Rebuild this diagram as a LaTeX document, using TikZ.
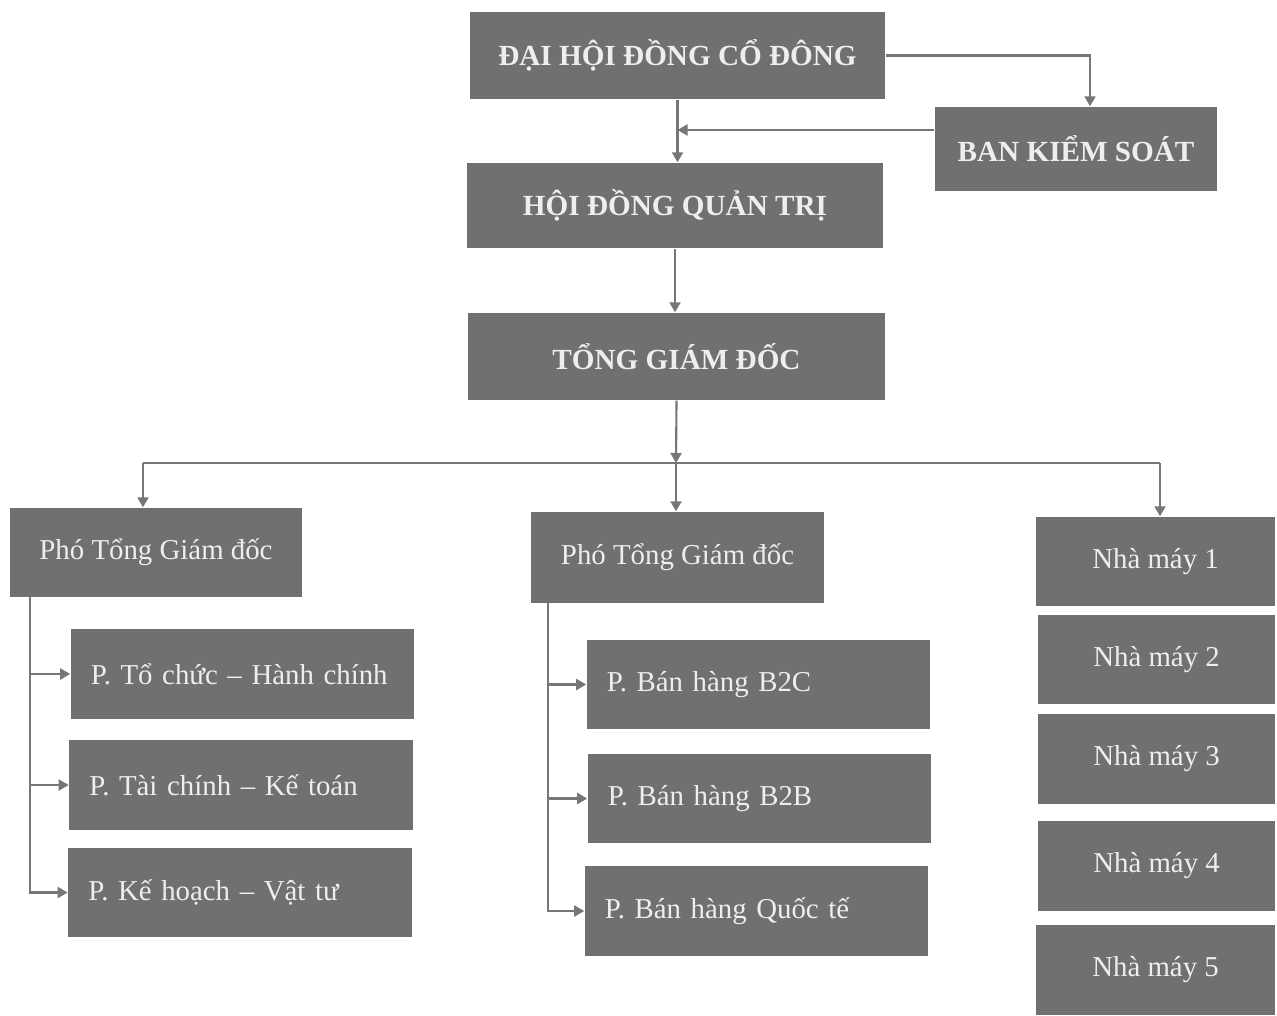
\documentclass[tikz,border=0pt]{standalone}
\usepackage{fontspec}
\setmainfont{Liberation Serif}
\usetikzlibrary{arrows.meta}
\definecolor{boxgray}{RGB}{112,112,112}
\definecolor{linegray}{RGB}{118,118,118}
\definecolor{textgray}{RGB}{238,238,238}
\begin{document}
\begin{tikzpicture}[x=0.01cm,y=-0.01cm,
    box/.style={fill=boxgray, text=textgray, inner sep=0pt, font=\fontsize{8.2}{9}\selectfont},
    topbox/.style={box, font=\fontsize{8.3}{9}\selectfont\bfseries},
    deptbox/.style={box, text width=3.03cm, align=left, inner xsep=0.2cm, minimum height=0.89cm},
    arr/.style={draw=linegray, line width=0.6pt, -{Triangle[width=0.11cm,length=0.1cm]}},
    line/.style={draw=linegray, line width=0.6pt}]
    \useasboundingbox (0,0) rectangle (1277,1015);
    \node[topbox, minimum width=4.15cm, minimum height=0.87cm] (dhdcd) at (677.5,55.5) {ĐẠI HỘI ĐỒNG CỔ ĐÔNG};
    \node[topbox, minimum width=2.82cm, minimum height=0.84cm] (bks) at (1076,149) {BAN KIỂM SOÁT};
    \node[topbox, minimum width=4.16cm, minimum height=0.85cm] (hdqt) at (675,205.5) {HỘI ĐỒNG QUẢN TRỊ};
    \node[topbox, minimum width=4.17cm, minimum height=0.87cm] (tgd) at (676.5,356.5) {TỔNG GIÁM ĐỐC};
    \node[box, minimum width=2.92cm, minimum height=0.89cm] (ptgd1) at (156,552.5) {Phó Tổng Giám đốc};
    \node[box, minimum width=2.93cm, minimum height=0.91cm] (ptgd2) at (677.5,557.5) {Phó Tổng Giám đốc};
    \node[deptbox] (tchc) at (242.5,674) {P. Tổ chức – Hành chính};
    \node[deptbox] (tckt) at (241,785) {P. Tài chính – Kế toán};
    \node[deptbox] (khvt) at (240,892.5) {P. Kế hoạch – Vật tư};
    \node[deptbox] (b2c) at (758.5,684.5) {P. Bán hàng B2C};
    \node[deptbox] (b2b) at (759.5,798.5) {P. Bán hàng B2B};
    \node[deptbox] (qt) at (756.5,911) {P. Bán hàng Quốc tế};
    \node[box, minimum width=2.39cm, minimum height=0.89cm] (nm1) at (1155.5,561.5) {Nhà máy 1};
    \node[box, minimum width=2.37cm, minimum height=0.89cm] (nm2) at (1156.5,659.5) {Nhà máy 2};
    \node[box, minimum width=2.37cm, minimum height=0.90cm] (nm3) at (1156.5,759) {Nhà máy 3};
    \node[box, minimum width=2.37cm, minimum height=0.90cm] (nm4) at (1156.5,866) {Nhà máy 4};
    \node[box, minimum width=2.39cm, minimum height=0.90cm] (nm5) at (1155.5,970) {Nhà máy 5};
    \coordinate (bus) at (676,463);
    \coordinate (left) at (30,597);
    \coordinate (mid) at (548,603);
    \draw[arr] (dhdcd.east) -| ([xshift=0.14cm]bks.north);
    \draw[arr] (dhdcd.south) -- (dhdcd.south |- hdqt.north);
    \draw[arr] ([yshift=0.19cm]bks.west) -- ([yshift=0.19cm]bks.west -| dhdcd.south);
    \draw[arr] (hdqt) -- (hdqt |- tgd.north);
    \draw[arr] (tgd.south) -- (bus);
    \draw[line] ([xshift=-0.13cm]ptgd1.north |- bus) -- ([xshift=0.045cm]nm1.north |- bus);
    \draw[arr] ([xshift=-0.13cm]ptgd1.north |- bus) -- ([xshift=-0.13cm]ptgd1.north);
    \draw[arr] (bus) -- (bus |- ptgd2.north);
    \draw[arr] ([xshift=0.045cm]nm1.north |- bus) -- ([xshift=0.045cm]nm1.north);
    \draw[arr] (left) |- (tchc.west);
    \draw[arr] (left) |- (tckt.west);
    \draw[arr] (left) |- (khvt.west);
    \draw[arr] (mid) |- (b2c.west);
    \draw[arr] (mid) |- (b2b.west);
    \draw[arr] (mid) |- (qt.west);
\end{tikzpicture}
\end{document}
